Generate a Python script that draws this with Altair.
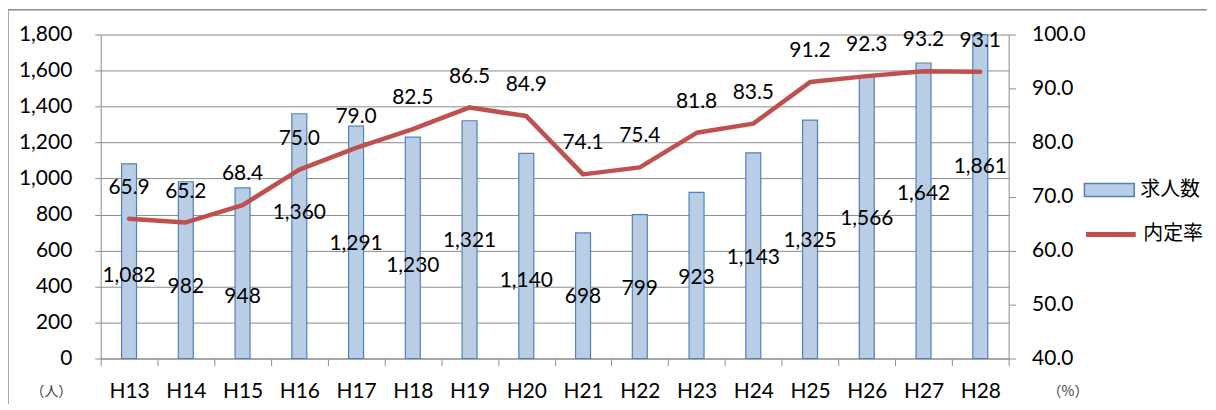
import altair as alt
import pandas as pd

years = ['H13', 'H14', 'H15', 'H16', 'H17', 'H18', 'H19', 'H20',
         'H21', 'H22', 'H23', 'H24', 'H25', 'H26', 'H27', 'H28']
counts = [1082, 982, 948, 1360, 1291, 1230, 1321, 1140,
          698, 799, 923, 1143, 1325, 1566, 1642, 1861]
rates = [65.9, 65.2, 68.4, 75.0, 79.0, 82.5, 86.5, 84.9,
         74.1, 75.4, 81.8, 83.5, 91.2, 92.3, 93.2, 93.1]
# where each count label sits, in the count axis units
count_label_at = [460, 399, 343, 809, 637, 515, 654, 432,
                  343, 388, 449, 559, 654, 775, 914, 1063]
left_ticks = [0, 200, 400, 600, 800, 1000, 1200, 1400, 1600, 1800]
right_ticks = [40, 50, 60, 70, 80, 90, 100]

df = pd.DataFrame({
    'year': years, 'count': counts, 'rate': rates,
    'labelat': count_label_at,
    's1': ['求人数'] * len(years), 's2': ['内定率'] * len(years),
})

GREY = '#8c8c8c'
FONT = 'Lato'
CJK = 'Noto Sans CJK JP'

xaxis = alt.Axis(labelFont=FONT, labelFontSize=21, labelColor='black',
                 labelAngle=0, labelBaseline='middle', labelPadding=26,
                 tickBand='extent', tickSize=7, tickColor=GREY,
                 domainColor=GREY, grid=False)
xscale = alt.Scale(paddingInner=0, paddingOuter=0)

left_axis = alt.Axis(values=left_ticks, tickCount=20, format=',d', orient='left',
                     labelOverlap=False,
                     title='（人）', titleAngle=0, titleX=-50, titleY=358,
                     titleAlign='center', titleBaseline='middle',
                     titleFont=CJK, titleFontSize=14, titleFontWeight='normal',
                     titleColor='#404040',
                     labelFont=FONT, labelFontSize=21, labelColor='black',
                     labelPadding=23, tickSize=6, tickColor=GREY,
                     domainColor=GREY, grid=True, gridColor=GREY)
left_scale = alt.Scale(domain=[0, 1800], clamp=True, nice=False)

right_axis = alt.Axis(values=right_ticks, tickCount=20, format='.1f', orient='right',
                      labelOverlap=False,
                      title='（%）', titleAngle=0, titleX=59, titleY=358,
                      titleAlign='center', titleBaseline='middle',
                      titleFont=CJK, titleFontSize=14, titleFontWeight='normal',
                      titleColor='#404040',
                      labelFont=FONT, labelFontSize=21, labelColor='black',
                      labelPadding=16, tickSize=7, tickColor=GREY,
                      domainColor=GREY, grid=False)
right_scale = alt.Scale(domain=[40, 100], nice=False)

base = alt.Chart(df)

bars = base.mark_bar(size=15, stroke='#4f81bd', strokeWidth=1.2).encode(
    x=alt.X('year:N', sort=years, title=None, scale=xscale, axis=xaxis),
    y=alt.Y('count:Q', scale=left_scale, axis=left_axis),
    fill=alt.Fill('s1:N', scale=alt.Scale(domain=['求人数'], range=['#b9cde5']),
                  legend=alt.Legend(title=None, orient='none', legendX=986, legendY=130,
                                    symbolType='M-1,-0.26H1V0.26H-1Z', symbolSize=2500,
                                    symbolStrokeColor='#4f81bd', symbolStrokeWidth=1.5,
                                    labelFont=CJK, labelFontSize=20, labelColor='black',
                                    labelOffset=5, padding=0, offset=0)),
)

bar_text = base.mark_text(font=FONT, fontSize=21, color='black', baseline='middle').encode(
    x=alt.X('year:N', sort=years, title=None, scale=xscale, axis=xaxis),
    y=alt.Y('labelat:Q', scale=left_scale, axis=left_axis),
    text=alt.Text('count:Q', format=',d'),
)

line = base.mark_line(strokeWidth=4.5, strokeCap='round', strokeJoin='round').encode(
    x=alt.X('year:N', sort=years, title=None, scale=xscale, axis=xaxis),
    y=alt.Y('rate:Q', scale=right_scale, axis=right_axis),
    stroke=alt.Stroke('s2:N', scale=alt.Scale(domain=['内定率'], range=['#c0504d']),
                      legend=alt.Legend(title=None, orient='none', legendX=986, legendY=173,
                                        symbolType='stroke', symbolSize=2500,
                                        symbolStrokeWidth=5,
                                        labelFont=CJK, labelFontSize=20, labelColor='black',
                                        labelOffset=5, padding=0, offset=0)),
)

line_text = base.mark_text(font=FONT, fontSize=21, color='black', baseline='middle', dy=-31).encode(
    x=alt.X('year:N', sort=years, title=None, scale=xscale, axis=xaxis),
    y=alt.Y('rate:Q', scale=right_scale, axis=right_axis),
    text=alt.Text('rate:Q', format='.1f'),
)

frame_df = pd.DataFrame({'a': [0]})
frame_top = alt.Chart(frame_df).mark_rule(color=GREY, strokeWidth=1.5, clip=False).encode(
    x=alt.value(-93), x2=alt.value(1110), y=alt.value(-25))
frame_left = alt.Chart(frame_df).mark_rule(color=GREY, strokeWidth=1.5, clip=False).encode(
    x=alt.value(-93), y=alt.value(-25), y2=alt.value(420))

left_layer = alt.layer(bars, bar_text)
right_layer = alt.layer(line, line_text)

chart = alt.layer(left_layer, right_layer, frame_top, frame_left).resolve_scale(
    y='independent'
).properties(
    width=911, height=325,
    autosize=alt.AutoSizeParams(type='none'),
    padding={'left': 93, 'top': 26, 'right': 200, 'bottom': 45},
).configure_view(stroke=None)

chart.save('out.html', embed_options={'renderer': 'svg', 'actions': False})
